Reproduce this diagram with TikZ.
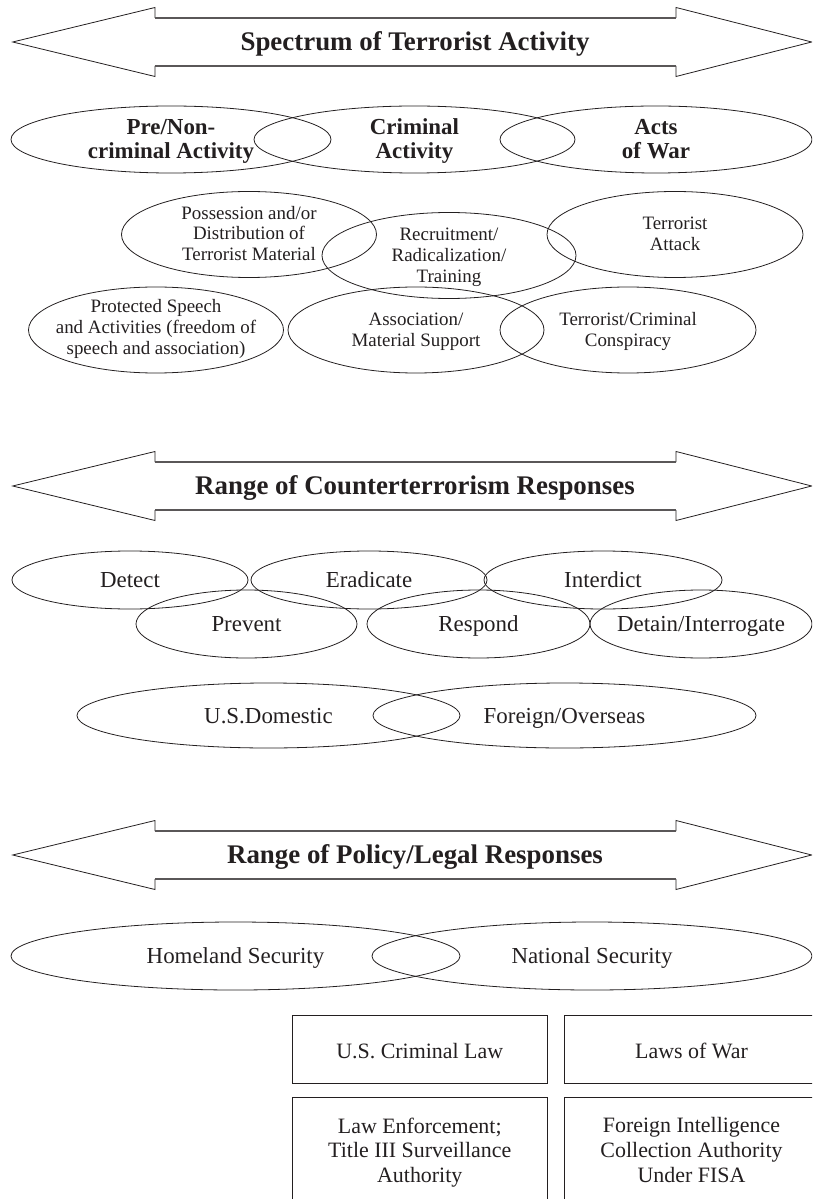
\documentclass[tikz,border=0pt]{standalone}
\usepackage{fontspec}
\setmainfont{Liberation Serif}
\usetikzlibrary{shapes.geometric}
\definecolor{ink}{RGB}{35,31,32}
\tikzset{
  oval/.style 2 args={ellipse,draw=ink,line width=0.4pt,inner sep=0pt,minimum width=#1bp,minimum height=#2bp},
  struts/.style={execute at begin node=\strut,execute at end node=\strut,yshift=-1.5bp},
  headtxt/.style={struts,text=ink,font=\bfseries\fontsize{13.5}{14}\selectfont},
  bigtxt/.style={struts,text=ink,align=center,font=\bfseries\fontsize{11.5}{12}\selectfont},
  smtxt/.style={struts,text=ink,align=center,font=\fontsize{9.5}{10.5}\selectfont},
  midtxt/.style={struts,text=ink,align=center,font=\fontsize{11.5}{12.5}\selectfont},
  lawbox/.style 2 args={rectangle,draw=ink,line width=0.45pt,text=ink,minimum width=#1bp,minimum height=#2bp,inner sep=0pt},
  lawtxt/.style={struts,align=center,text=ink,font=\fontsize{11}{12.5}\selectfont},
}
\begin{document}
\begin{tikzpicture}[x=0.5bp,y=-0.5bp]
\useasboundingbox (0,0) rectangle (812,1199);
\clip (0,0) rectangle (812,1199);

% double-headed range arrows
\foreach \ty in {42,486,855}{
  \draw[ink,line width=0.4pt] (155,\ty-24) -- (155,\ty-34.5) -- (12.7,\ty) -- (155,\ty+34.5) -- (155,\ty+24);
  \draw[ink,line width=0.4pt] (676,\ty-24) -- (676,\ty-34.5) -- (811.7,\ty) -- (676,\ty+34.5) -- (676,\ty+24);
  \draw[ink!75,line width=0.8pt] (155,\ty-24) -- (676,\ty-24) (155,\ty+24) -- (676,\ty+24);
}
\node[headtxt] (spec) at (415,42) {Spectrum of Terrorist Activity};
\node[headtxt] (ctr) at (415,486) {Range of Counterterrorism Responses};
\node[headtxt] (pol) at (415,855) {Range of Policy/Legal Responses};

% spectrum of activity
\node[oval={160}{33.5}] (pre) at (171,139.5) {};
\node[oval={160.5}{33.5}] (crim) at (414.5,139.5) {};
\node[oval={156}{33.5}] (war) at (656,139.5) {};
\node[bigtxt] (pre-t) at (pre) {Pre/Non-\\criminal Activity};
\node[bigtxt] (crim-t) at (crim) {Criminal\\Activity};
\node[bigtxt] (war-t) at (war) {Acts\\of War};

\node[oval={127.5}{43}] (poss) at (249,234.5) {};
\node[oval={127}{43}] (recr) at (449,255.5) {};
\node[oval={128}{43}] (att) at (675,234.5) {};
\node[oval={127.5}{43}] (prot) at (156,330) {};
\node[oval={128}{43}] (assoc) at (416,330) {};
\node[oval={128}{43}] (consp) at (628,330) {};
\node[smtxt] (poss-t) at (249,233.5) {Possession and/or\\Distribution of\\Terrorist Material};
\node[smtxt] (recr-t) at (449,255) {Recruitment/\\Radicalization/\\Training};
\node[smtxt] (att-t) at (675,234) {Terrorist\\Attack};
\node[smtxt] (prot-t) at (156,327) {Protected Speech\\and Activities (freedom of\\speech and association)};
\node[smtxt] (assoc-t) at (assoc) {Association/\\Material Support};
\node[smtxt] (consp-t) at (consp) {Terrorist/Criminal\\Conspiracy};

% counterterrorism responses
\node[oval={118}{29}] (det) at (130,580) {};
\node[oval={118}{29}] (erad) at (369,580) {};
\node[oval={119}{29}] (intd) at (603,580) {};
\node[oval={110.5}{34}] (prev) at (246.5,624) {};
\node[oval={111.5}{34}] (resp) at (478.5,624) {};
\node[oval={111}{34}] (detn) at (701,624) {};
\node[midtxt] (det-t) at (det) {Detect};
\node[midtxt] (erad-t) at (erad) {Eradicate};
\node[midtxt] (intd-t) at (intd) {Interdict};
\node[midtxt] (prev-t) at (prev) {Prevent};
\node[midtxt] (resp-t) at (resp) {Respond};
\node[midtxt] (detn-t) at (detn) {Detain/Interrogate};

\node[oval={191.5}{32.5}] (dom) at (268.5,715.5) {};
\node[oval={191.5}{32.5}] (frgn) at (564.5,715.5) {};
\node[midtxt] (dom-t) at (dom) {U.S.Domestic};
\node[midtxt] (frgn-t) at (frgn) {Foreign/Overseas};

% policy and legal responses
\node[oval={224.5}{34}] (home) at (235.5,956) {};
\node[oval={220}{34}] (natl) at (592,956) {};
\node[midtxt] (home-t) at (home) {Homeland Security};
\node[midtxt] (natl-t) at (natl) {National Security};

\node[lawbox={127.75}{34}] (crlaw) at (419.75,1049) {};
\node[lawbox={127.5}{34}] (warlaw) at (691.5,1049) {};
\node[lawbox={127.75}{54}] (enf) at (419.75,1151) {};
\node[lawbox={127.5}{54}] (fisa) at (691.5,1151) {};
\node[lawtxt] (crlaw-t) at (419.75,1051) {U.S. Criminal Law};
\node[lawtxt] (warlaw-t) at (691.5,1051) {Laws of War};
\node[lawtxt] (enf-t) at (enf) {Law Enforcement;\\Title III Surveillance\\Authority};
\node[lawtxt] (fisa-t) at (fisa) {Foreign Intelligence\\Collection Authority\\Under FISA};
\end{tikzpicture}
\end{document}
